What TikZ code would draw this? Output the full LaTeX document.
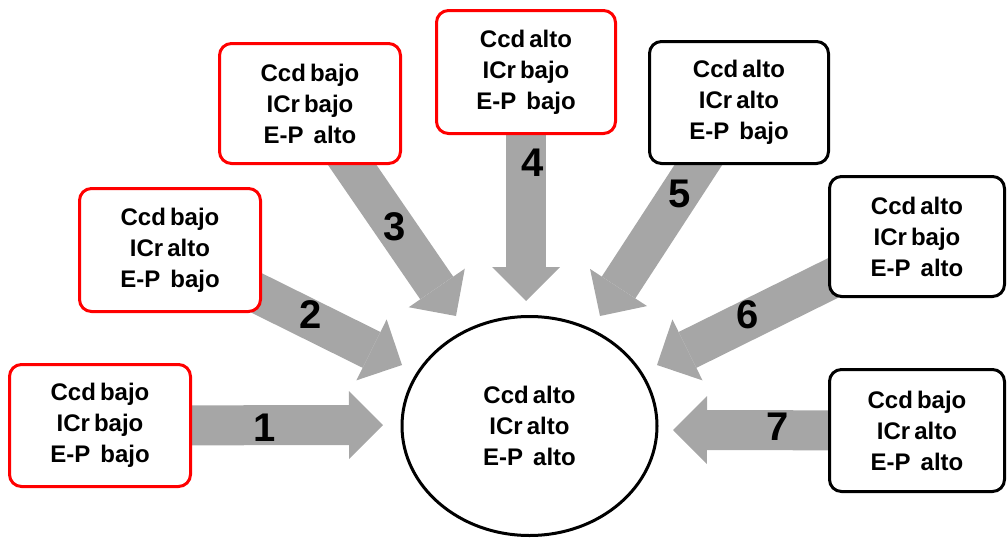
\documentclass[tikz,border=0pt]{standalone}
\usepackage{fontspec}
\setmainfont{Liberation Sans}
\usetikzlibrary{shapes.geometric,arrows.meta}
\definecolor{arrowgray}{RGB}{166,166,166}
\definecolor{boxred}{RGB}{255,0,0}
\pgfdeclarelayer{bg}
\pgfsetlayers{bg,main}
\newcommand\epgap{\hspace{0.42em}}
\newcommand\boxfont{\fontsize{24}{31}\selectfont\bfseries\spaceskip=0.17em\relax}
\begin{document}
\begin{tikzpicture}[x=1pt,y=-1pt,
  box/.style={draw, line width=3pt, rounded corners=12pt, fill=white, align=center,
    inner sep=0pt, font=\boxfont,
    minimum width=181pt, minimum height=122pt},
  redbox/.style={box, draw=boxred},
  blackbox/.style={box, draw=black},
  hub/.style={ellipse, draw=black, line width=3pt, fill=white, align=center,
    inner sep=0pt, font=\boxfont,
    minimum width=255pt, minimum height=219pt},
  flow/.style={draw=arrowgray, line width=40pt,
    -{Triangle[length=34pt, width=68pt, line width=0pt]}},
  num/.style={font=\fontsize{40}{40}\selectfont\bfseries, inner sep=0pt}]
\useasboundingbox (0,0) rectangle (1007,538);

% boxes
\node[redbox] (b1) at (100,425.5) {Ccd bajo\\ICr bajo\\E-P\epgap bajo};
\node[redbox, minimum height=123pt] (b2) at (170,250) {Ccd bajo\\ICr alto\\E-P\epgap bajo};
\node[redbox, minimum height=120pt] (b3) at (310,103.5) {Ccd bajo\\ICr bajo\\E-P\epgap alto};
\node[redbox, minimum width=179pt, minimum height=123pt] (b4) at (526,72) {Ccd alto\\ICr bajo\\E-P\epgap bajo};
\node[blackbox, minimum width=179pt] (b5) at (739,102.5) {Ccd alto\\ICr alto\\E-P\epgap bajo};
\node[blackbox, minimum width=175pt, minimum height=120pt] (b6) at (917,236.5) {Ccd alto\\ICr bajo\\E-P\epgap alto};
\node[blackbox, minimum width=175pt] (b7) at (917,430.5) {Ccd bajo\\ICr alto\\E-P\epgap alto};

% centre
\node[hub] (c) at (529.5,426) {Ccd alto\\ICr alto\\E-P\epgap alto};

% arrow tips
\coordinate (t1) at (383,425);
\coordinate (t2) at (402,365);
\coordinate (t3) at (456,316);
\coordinate (t4) at (526,301);
\coordinate (t5) at (600,316);
\coordinate (t6) at (657,365);
\coordinate (t7) at (673,430);

\begin{pgfonlayer}{bg}
\draw[flow] (b1.center) -- (t1);
\draw[flow] (b2.center) -- (t2);
\draw[flow] (b3.center) -- (t3);
\draw[flow] (b4.center) -- (t4);
\draw[flow] (b5.center) -- (t5);
\draw[flow] (b6.center) -- (t6);
\draw[flow] (b7.center) -- (t7);
\end{pgfonlayer}

% numbers
\node[num] (n1) at (265,428) {1};
\node[num] (n2) at (311,315) {2};
\node[num] (n3) at (395,227) {3};
\node[num] (n4) at (533,163) {4};
\node[num] (n5) at (680,194) {5};
\node[num] (n6) at (748,315) {6};
\node[num] (n7) at (778,427) {7};
\end{tikzpicture}
\end{document}
